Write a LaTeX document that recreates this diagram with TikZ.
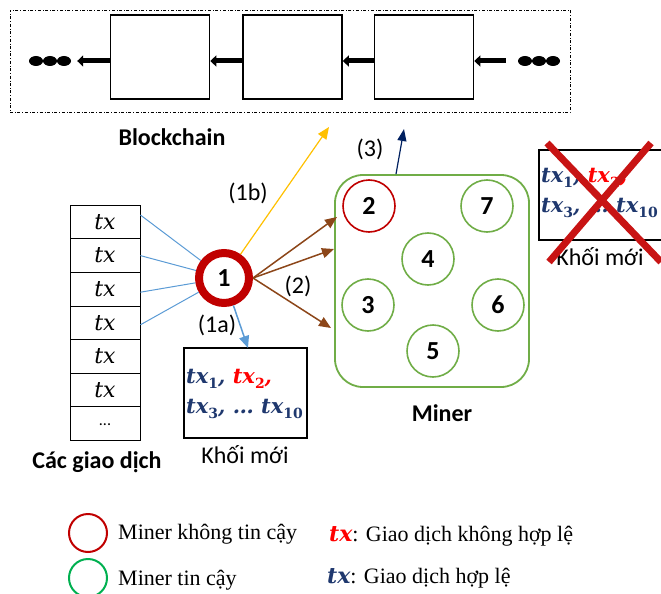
\documentclass[tikz,border=0pt]{standalone}
\usepackage{fontspec}
\setmainfont{Liberation Serif}
\newfontfamily\calf{Carlito}
\newfontfamily\txf{DejaVu Serif}
\usetikzlibrary{arrows.meta,shapes.geometric}
\definecolor{ored}{RGB}{192,0,0}
\definecolor{ogreen}{RGB}{112,173,71}
\definecolor{lgreen}{RGB}{0,176,80}
\definecolor{lblue}{RGB}{91,155,213}
\definecolor{oyellow}{RGB}{255,192,0}
\definecolor{obrown}{RGB}{140,70,25}
\definecolor{onavy}{RGB}{0,32,96}
\definecolor{tnavy}{RGB}{31,56,110}
\definecolor{xred}{RGB}{200,20,20}
\newcommand\txsub[1]{tx\raisebox{-0.28em}{\fontsize{14}{14}\selectfont\upshape #1}}
\tikzset{
  blk/.style={draw, line width=1.6pt, minimum width=99pt, minimum height=84pt, inner sep=0pt},
  chainarr/.style={line width=5pt, -{Triangle[length=6pt,width=11pt]}},
  dotn/.style={ellipse, fill, minimum width=14pt, minimum height=10pt, inner sep=0pt},
  lbl/.style={font=\calf\fontsize{24}{24}\selectfont, inner sep=0pt},
  blbl/.style={font=\calf\bfseries\fontsize{24}{24}\selectfont, inner sep=0pt},
  gminer/.style={circle, draw=ogreen, line width=1.6pt, minimum size=52pt, inner sep=0pt, font=\calf\bfseries\fontsize{26}{26}\selectfont},
  rowbox/.style={draw, line width=0.8pt, minimum width=70pt, minimum height=33.6pt, inner sep=0pt},
  nbox/.style={draw, line width=2pt, inner sep=0pt},
  bline/.style={lblue, line width=1pt},
  brarr/.style={obrown, line width=1.5pt, -{Triangle[length=12pt,width=10pt]}},
  txtbox/.style={align=left, inner sep=0pt, font=\txf\bfseries\itshape\fontsize{21}{30}\selectfont},
  legtxt/.style={anchor=west, inner sep=0pt, font=\fontsize{22}{22}\selectfont},
}
\begin{document}
\begin{tikzpicture}[x=1pt,y=-1pt]
\useasboundingbox (0,0) rectangle (661,594);
% blockchain
\node[draw, dash dot, line width=0.8pt, minimum width=560pt, minimum height=102pt] (chain) at (290,61) {};
\node[blk] (b1) at (160,57) {};
\node[blk] (b2) at (292.5,57) {};
\node[blk] (b3) at (424,57) {};
\node[dotn] (ld1) at (36,61) {};
\node[dotn] (ld2) at (50,61) {};
\node[dotn] (ld3) at (64,61) {};
\node[dotn] (rd1) at (525,61) {};
\node[dotn] (rd2) at (539,61) {};
\node[dotn] (rd3) at (553,61) {};
\draw[chainarr, shorten >=6pt] (b1.west |- 0,61) -- (ld3.east);
\draw[chainarr] (b2.west |- 0,61) -- (b1.east |- 0,61);
\draw[chainarr] (b3.west |- 0,61) -- (b2.east |- 0,61);
\draw[chainarr, shorten <=12pt] (rd1.west) -- (b3.east |- 0,61);
\node[blbl] (bct) at (172,137) {Blockchain};
% miner box
\node[draw=ogreen, line width=1.8pt, rounded corners=28pt, minimum width=194pt, minimum height=212pt] (miner) at (432,281) {};
\node[gminer, draw=ored] (m2) at (369,206) {2};
\node[gminer] (m7) at (487,206) {7};
\node[gminer] (m4) at (428,259) {4};
\node[gminer] (m3) at (368,305) {3};
\node[gminer] (m6) at (498,305) {6};
\node[gminer] (m5) at (433,351) {5};
\node[blbl] (mlab) at (442,413) {Miner};
% transactions
\foreach \i/\t in {1/{\txf\itshape tx},2/{\txf\itshape tx},3/{\txf\itshape tx},4/{\txf\itshape tx},5/{\txf\itshape tx},6/{\txf\itshape tx},7/{\calf\fontsize{16}{16}\selectfont\raisebox{-4pt}{...}}}{
  \node[rowbox, font=\fontsize{22}{22}\selectfont] (r\i) at (105,{222+33.6*(\i-1)}) {\t};
}
\node[blbl] (cgd) at (97,462) {Các giao dịch};
% miner 1
\node[circle, draw=ored, line width=8pt, minimum size=50pt, inner sep=0pt, font=\calf\bfseries\fontsize{26}{26}\selectfont] (n1) at (224,278) {1};
\draw[bline] ([yshift=7pt]r1.east) -- (n1);
\draw[bline] (r2.east) -- (n1);
\draw[bline] ([yshift=-3pt]r3.east) -- (n1);
\draw[bline] ([yshift=-2pt]r4.east) -- (n1);
% arrows
\coordinate (ytip) at (329,127);
\draw[oyellow, line width=1.2pt, -{Triangle[length=12pt,width=10pt]}] (n1) -- (ytip);
\node[lbl] (l1b) at (248,193) {(1b)};
\coordinate (bt1) at (337,217);
\coordinate (bt2) at (334,249);
\coordinate (bt3) at (331,328);
\draw[brarr] (n1.east) -- (bt1);
\draw[brarr] (n1.east) -- (bt2);
\draw[brarr] (n1.east) -- (bt3);
\node[lbl] (l2) at (298,286) {(2)};
\coordinate (ntip) at (404,129);
\draw[onavy, line width=1.2pt, -{Triangle[length=12pt,width=9pt]}] ([xshift=-36pt]miner.north) -- (ntip);
\node[lbl] (l3) at (370,149) {(3)};
% new block
\node[nbox, minimum width=123pt, minimum height=90pt] (nb) at (245.5,393) {};
\node[txtbox, anchor=west] (nbt) at (186,394) {\textcolor{tnavy}{\txsub{1},} \textcolor{red}{\txsub{2},}\\\textcolor{tnavy}{\txsub{3}, \ldots\ \txsub{10}}};
\coordinate (atip) at (248,348);
\draw[lblue, line width=1.5pt, -{Triangle[length=12pt,width=10pt]}] (n1) -- (atip);
\node[lbl] (l1a) at (217,325) {(1a)};
\node[lbl] (km1) at (245,455) {Khối mới};
% rejected block
\node[nbox, minimum width=130pt, minimum height=90pt] (cb) at (604,195) {};
\node[txtbox, anchor=west] (cbt) at (541,193) {\textcolor{tnavy}{\txsub{1},} \textcolor{red}{\txsub{2},}\\\textcolor{tnavy}{\txsub{3}, \ldots\ \txsub{10}}};
\node[lbl] (km2) at (600,257) {Khối mới};
\coordinate (x1) at (547,143);
\coordinate (x2) at (661,262);
\coordinate (x3) at (651,143);
\coordinate (x4) at (549,262);
\draw[xred, line width=7pt] (x1) -- (x2);
\draw[xred, line width=7pt] (x3) -- (x4);
% legend
\node[circle, draw=ored, line width=2pt, minimum size=38pt, inner sep=0pt] (lg1) at (88,533) {};
\node[circle, draw=lgreen, line width=2pt, minimum size=38pt, inner sep=0pt] (lg2) at (88,578) {};
\node[legtxt] (lt1) at (118,534) {Miner không tin cậy};
\node[legtxt] (lt2) at (118,580) {Miner tin cậy};
\node[legtxt] (lt3) at (329,536) {\textcolor{red}{\txf\bfseries\itshape tx}: Giao dịch không hợp lệ};
\node[legtxt] (lt4) at (327,578) {\textcolor{tnavy}{\txf\bfseries\itshape tx}: Giao dịch hợp lệ};
\end{tikzpicture}
\end{document}
